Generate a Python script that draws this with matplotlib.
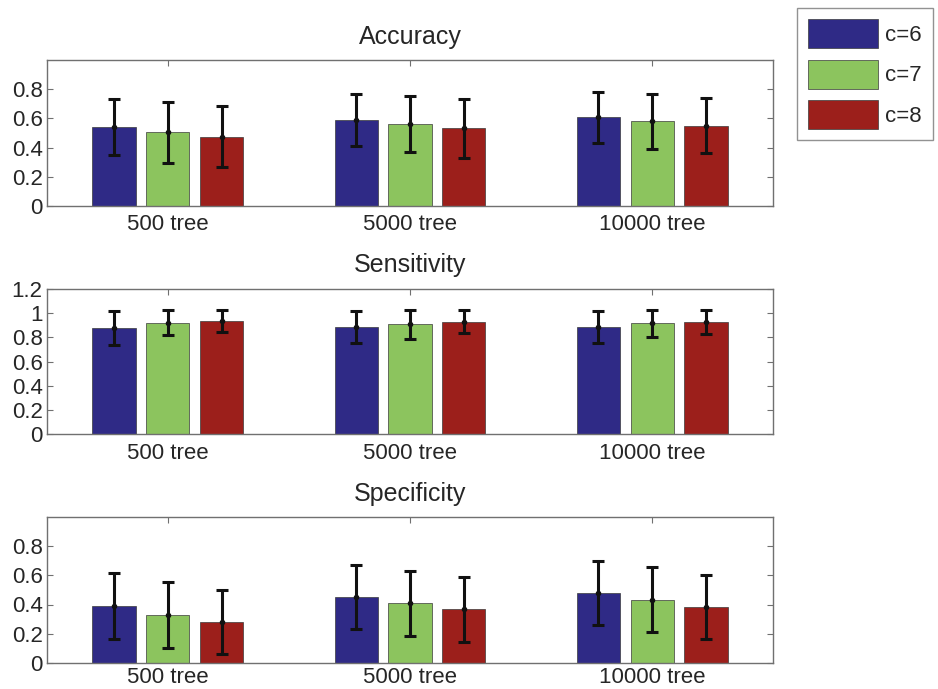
import numpy as np
import matplotlib
matplotlib.use("Agg")
import matplotlib.pyplot as plt
from matplotlib.patches import Patch

groups = ["500 tree", "5000 tree", "10000 tree"]
series = ["c=6", "c=7", "c=8"]
colors = ["#2f2a86", "#8cc45e", "#9c1f1b"]

acc_mean = [[0.54, 0.59, 0.607], [0.504, 0.561, 0.58], [0.474, 0.531, 0.55]]
acc_err = [[0.19, 0.18, 0.175], [0.21, 0.19, 0.19], [0.21, 0.20, 0.19]]

sen_mean = [[0.875, 0.886, 0.884], [0.922, 0.908, 0.915], [0.934, 0.93, 0.928]]
sen_err = [[0.14, 0.13, 0.13], [0.10, 0.12, 0.11], [0.09, 0.095, 0.10]]

spe_mean = [[0.389, 0.453, 0.48], [0.326, 0.407, 0.434], [0.278, 0.366, 0.386]]
spe_err = [[0.227, 0.22, 0.22], [0.228, 0.223, 0.224], [0.22, 0.224, 0.22]]

panels = [
    ("Accuracy", acc_mean, acc_err, 1.0, [0, 0.2, 0.4, 0.6, 0.8], ["0", "0.2", "0.4", "0.6", "0.8"]),
    ("Sensitivity", sen_mean, sen_err, 1.2, [0, 0.2, 0.4, 0.6, 0.8, 1.0, 1.2],
     ["0", "0.2", "0.4", "0.6", "0.8", "1", "1.2"]),
    ("Specificity", spe_mean, spe_err, 1.0, [0, 0.2, 0.4, 0.6, 0.8], ["0", "0.2", "0.4", "0.6", "0.8"]),
]

fig = plt.figure(figsize=(9.38, 6.89), dpi=100)
plt.rcParams['font.family'] = ['Liberation Sans', 'DejaVu Sans']

left = 46.7 / 938
width = (773.3 - 46.7) / 938
bottoms = [1 - 205.7 / 689, 1 - 434.3 / 689, 1 - 662.7 / 689]
height = 145.5 / 689
xpads = [6, 6, 3]

x = np.arange(1, len(groups) + 1)
gw = 3 / 4.5
offs = [-gw / 3, 0, gw / 3]
bw = gw / 3 * 0.8
spine_c = "#707070"
text_c = "#262626"

for (title, means, errs, ymax, yt, ytl), b, xp in zip(panels, bottoms, xpads):
    ax = fig.add_axes([left, b, width, height])
    for i in range(3):
        ax.bar(x + offs[i], means[i], bw, color=colors[i], edgecolor="#3a3a3a", linewidth=0.5, zorder=2)
        ax.errorbar(x + offs[i], means[i], yerr=errs[i], fmt='o', color='#111111', ms=3,
                    elinewidth=2.2, capsize=4.5, capthick=2.2, zorder=3)
    ax.set_xlim(0.5, 3.5)
    ax.set_ylim(0, ymax)
    ax.set_yticks(yt)
    ax.set_yticklabels(ytl)
    ax.set_xticks(x)
    ax.set_xticklabels(groups)
    ax.tick_params(direction='in', top=True, right=True, length=4, width=0.8, color=spine_c,
                   labelsize=16, labelcolor=text_c, pad=3)
    ax.tick_params(axis='x', pad=xp)
    for s in ax.spines.values():
        s.set_color(spine_c)
        s.set_linewidth(1.0)
    ax.set_title(title, fontsize=18, color=text_c, pad=12)

handles = [Patch(facecolor=c, edgecolor="#3a3a3a", linewidth=0.5) for c in colors]
leg = fig.legend(handles, series, loc='upper left', bbox_to_anchor=(797 / 938, 1 - 8 / 689),
                 fontsize=16, frameon=True, fancybox=False, edgecolor="#777777",
                 handlelength=3.15, handleheight=1.65, borderpad=0.5, labelspacing=0.5,
                 handletextpad=0.3, borderaxespad=0)
for t in leg.get_texts():
    t.set_color(text_c)
leg.get_frame().set_linewidth(1.0)

fig.savefig("out.png", dpi=100)
